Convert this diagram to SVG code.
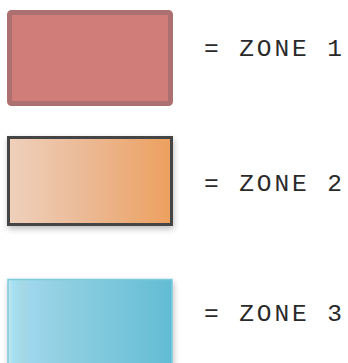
<svg xmlns="http://www.w3.org/2000/svg" width="348" height="363" viewBox="0 0 348 363">
  <defs>
    <linearGradient id="g2" x1="0" y1="0" x2="1" y2="0">
      <stop offset="0" stop-color="#efd0bc"/>
      <stop offset="0.5" stop-color="#ebb892"/>
      <stop offset="1" stop-color="#eda05e"/>
    </linearGradient>
    <linearGradient id="g3" x1="0" y1="0" x2="1" y2="0">
      <stop offset="0" stop-color="#c6e6ef"/>
      <stop offset="0.03" stop-color="#a6e0f2"/>
      <stop offset="0.1" stop-color="#a4d8e4"/>
      <stop offset="0.14" stop-color="#9ed6ee"/>
      <stop offset="0.3" stop-color="#92d0e2"/>
      <stop offset="0.6" stop-color="#7ec8dc"/>
      <stop offset="1" stop-color="#62bcd4"/>
    </linearGradient>
    <filter id="sh" x="-10%" y="-10%" width="125%" height="130%">
      <feGaussianBlur in="SourceAlpha" stdDeviation="3"/>
      <feOffset dx="1" dy="3" result="b"/>
      <feComponentTransfer><feFuncA type="linear" slope="0.25"/></feComponentTransfer>
      <feMerge><feMergeNode/><feMergeNode in="SourceGraphic"/></feMerge>
    </filter>
    <style>
      .lbl { font-family: "Liberation Mono", "DejaVu Sans Mono", monospace; font-size: 24.5px; fill: #2a2a2a; }
    </style>
  </defs>
  <g id="zone1">
    <rect x="9.5" y="12.5" width="161" height="91" rx="2" fill="#d07c79" stroke="#ad7070" stroke-width="5"/>
    <text class="lbl" x="204" y="56" textLength="138" lengthAdjust="spacing">= ZONE 1</text>
  </g>
  <g id="zone2">
    <rect x="8.5" y="137.5" width="163" height="87" fill="url(#g2)" stroke="#444444" stroke-width="3" filter="url(#sh)"/>
    <text class="lbl" x="204" y="191" textLength="138" lengthAdjust="spacing">= ZONE 2</text>
  </g>
  <g id="zone3">
    <rect x="8" y="279.5" width="164" height="95" fill="url(#g3)" stroke="#7ccade" stroke-width="1.5" filter="url(#sh)"/>
    <text class="lbl" x="204" y="321" textLength="138" lengthAdjust="spacing">= ZONE 3</text>
  </g>
</svg>
